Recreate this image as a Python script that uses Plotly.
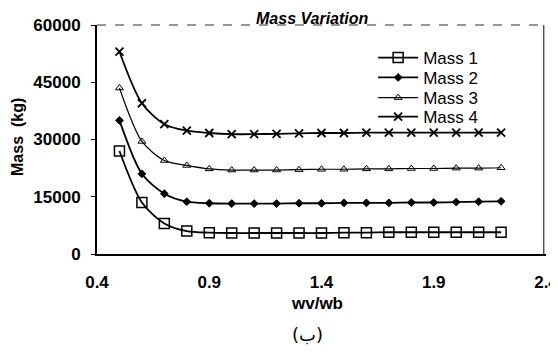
import plotly.graph_objects as go

wv_wb = [0.5, 0.6, 0.7, 0.8, 0.9, 1.0, 1.1, 1.2, 1.3, 1.4, 1.5, 1.6, 1.7, 1.8, 1.9, 2.0, 2.1, 2.2]
mass1 = [27000, 13500, 8000, 6000, 5600, 5500, 5500, 5500, 5500, 5500, 5600, 5600, 5700, 5700, 5700, 5700, 5700, 5700]
mass2 = [35000, 21000, 15800, 13700, 13300, 13200, 13200, 13200, 13300, 13300, 13400, 13400, 13400, 13500, 13500, 13600, 13700, 13800]
mass3 = [43500, 29500, 24500, 23200, 22300, 22000, 22000, 22000, 22100, 22200, 22200, 22300, 22300, 22400, 22400, 22500, 22500, 22600]
mass4 = [53000, 39500, 34000, 32300, 31700, 31400, 31400, 31500, 31600, 31700, 31700, 31800, 31800, 31800, 31800, 31800, 31800, 31800]
series_names = ["Mass 1", "Mass 2", "Mass 3", "Mass 4"]
x_ticks = [0.4, 0.9, 1.4, 1.9, 2.4]
y_ticks = [0, 15000, 30000, 45000, 60000]

styles = [
    dict(symbol="square-open", size=10, lw=1.8, mlw=1.5),
    dict(symbol="diamond", size=6, lw=1.8, mlw=1),
    dict(symbol="triangle-up-open", size=7, lw=1.2, mlw=1),
    dict(symbol="x-thin-open", size=8, lw=1.8, mlw=1.8),
]
legend_ids = ["legend", "legend2", "legend3", "legend4"]
legend_rows = [0.856, 0.769, 0.681, 0.598]

fig = go.Figure()
for name, ys, st, lg in zip(series_names, [mass1, mass2, mass3, mass4], styles, legend_ids):
    fig.add_trace(go.Scatter(
        x=wv_wb, y=ys, name=name, mode="lines+markers", legend=lg,
        line=dict(color="black", width=st["lw"], shape="spline", smoothing=0.8),
        marker=dict(symbol=st["symbol"], size=st["size"], color="black",
                    line=dict(color="black", width=st["mlw"])),
    ))

legend_style = dict(x=0.615, xanchor="left", yanchor="middle",
                    bgcolor="rgba(0,0,0,0)", font=dict(size=17),
                    itemwidth=40, borderwidth=0)
layout_legends = {lg: dict(legend_style, y=yr) for lg, yr in zip(legend_ids, legend_rows)}

fig.update_layout(
    width=550, height=344,
    margin=dict(l=89, r=12, t=17, b=98),
    paper_bgcolor="white", plot_bgcolor="white",
    font=dict(family="Liberation Sans, Arial, sans-serif", color="black"),
    showlegend=True,
    xaxis=dict(range=[0.4, 2.4], tickvals=x_ticks, ticktext=[str(v) for v in x_ticks],
               showgrid=False, zeroline=False, showline=True, linecolor="black", linewidth=2,
               ticks="", ticklabelstandoff=12, automargin=False, ticklabeloverflow="allow",
               tickfont=dict(size=17, weight="bold")),
    yaxis=dict(range=[0, 60000], tickvals=y_ticks, ticktext=[str(v) for v in y_ticks],
               showgrid=False, zeroline=False, showline=True, linecolor="black", linewidth=2,
               ticks="outside", ticklen=4, tickcolor="black", ticklabelstandoff=7,
               automargin=False, tickfont=dict(size=17, weight="bold")),
    shapes=[
        dict(type="line", xref="paper", yref="paper", x0=0, x1=1, y0=1, y1=1,
             line=dict(color="#333", width=1.2, dash="dash")),
        dict(type="line", xref="paper", yref="paper", x0=0.995, x1=0.995, y0=0, y1=1,
             line=dict(color="#333", width=1.2)),
    ],
    annotations=[
        dict(text="Mass Variation", xref="paper", yref="paper", x=0.479, y=1.074,
             xanchor="center", yanchor="top", showarrow=False,
             font=dict(size=16, weight="bold", style="italic")),
        dict(text="Mass  (kg)", xref="paper", yref="paper", x=-0.176, y=0.511,
             xanchor="center", yanchor="middle", textangle=-90, showarrow=False,
             font=dict(size=16, weight="bold")),
        dict(text="wv/wb", xref="paper", yref="paper", x=0.49, y=-0.218,
             xanchor="center", yanchor="middle", showarrow=False,
             font=dict(size=17, weight="bold")),
        dict(text="(ب)", xref="paper", yref="paper", x=0.468, y=-0.35,
             xanchor="center", yanchor="middle", showarrow=False,
             font=dict(size=18, family="DejaVu Sans")),
    ],
    **layout_legends,
)

fig.write_html("out.html")
